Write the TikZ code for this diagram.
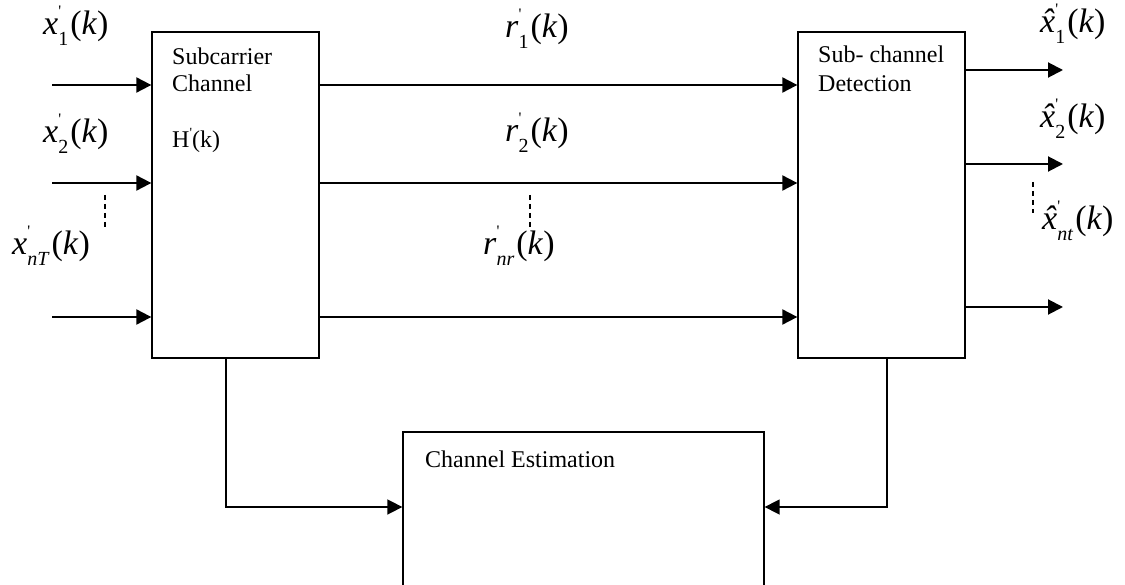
\documentclass[tikz,border=0pt]{standalone}
\usepackage{fontspec}
\setmainfont{Liberation Serif}
\usetikzlibrary{arrows.meta}
% signal name: symbol, prime over an index, then (k)
\newcommand\sig[2]{#1\rlap{\raisebox{0.55em}{\fontsize{16}{16}\selectfont\textquotesingle}}\raisebox{-0.3em}{\fontsize{20}{20}\selectfont #2}\kern2pt(\textit{k})}
% italic x with a circumflex
\newcommand\xhat{\textit{x}\llap{\textit{\char"02C6}\kern0.02em}}
\begin{document}
\begin{tikzpicture}[x=1pt,y=-1pt,
  blk/.style={draw, line width=1.3pt, inner sep=0pt},
  sigarrow/.style={line width=2pt, -{Triangle[length=15pt,width=15pt]}},
  feed/.style={line width=1.6pt, -{Triangle[length=15pt,width=15pt]}},
  dots/.style={line width=1.3pt, dash pattern=on 5pt off 4pt},
  lab/.style={anchor=base west, inner sep=0pt, font=\fontsize{34}{34}\selectfont},
  txt/.style={anchor=base west, inner sep=0pt, font=\fontsize{24}{24}\selectfont}]
\useasboundingbox (0,0) rectangle (1125,585);
\clip (0,0) rectangle (1125,585);

% blocks
\node[blk, minimum width=167pt, minimum height=326pt] (sc)  at (235.5,195) {};
\node[blk, minimum width=167pt, minimum height=326pt] (det) at (881.5,195) {};
\node[blk, minimum width=361pt, minimum height=220pt] (est) at (583.5,542) {};

% block texts
\node[txt] (sc1) at (172,65) {Subcarrier};
\node[txt] (sc2) at (172,92) {Channel};
\node[txt] (sc3) at (172,148) {H\raisebox{0.45em}{\fontsize{14}{14}\selectfont\textquotesingle}(k)};
\node[txt] (dt1) at (818,63) {Sub- channel};
\node[txt] (dt2) at (818,92) {Detection};
\node[txt] (es1) at (425,467) {Channel Estimation};

% input ends and output ends
\coordinate (i1) at (52,85);
\coordinate (i2) at (52,183);
\coordinate (i3) at (52,317);
\coordinate (o1) at (1063,70);
\coordinate (o2) at (1063,164);
\coordinate (o3) at (1063,307);

\draw[sigarrow] (i1) -- (i1 -| sc.west);
\draw[sigarrow] (i2) -- (i2 -| sc.west);
\draw[sigarrow] (i3) -- (i3 -| sc.west);
\draw[sigarrow] (sc.east |- i1) -- (det.west |- i1);
\draw[sigarrow] (sc.east |- i2) -- (det.west |- i2);
\draw[sigarrow] (sc.east |- i3) -- (det.west |- i3);
\draw[sigarrow] (det.east |- o1) -- (o1);
\draw[sigarrow] (det.east |- o2) -- (o2);
\draw[sigarrow] (det.east |- o3) -- (o3);

% feeds into channel estimation
\coordinate (f1) at (226,507);
\coordinate (f2) at (887,507);
\draw[feed] (f1 |- sc.south) -- (f1) -- (est.west |- f1);
\draw[feed] (f2 |- det.south) -- (f2) -- (est.east |- f2);

% continuation marks
\draw[dots] (105,195) -- (105,228);
\draw[dots] (530,195) -- (530,228);
\draw[dots] (1033,182) -- (1033,213);

% signal labels
\node[lab] (lx1) at (43,35)   {\sig{\textit{x}}{1}};
\node[lab] (lx2) at (43,143)  {\sig{\textit{x}}{2}};
\node[lab] (lx3) at (12,255)  {\sig{\textit{x}}{\textit{nT}}};
\node[lab] (lr1) at (505,38)  {\sig{\textit{r}}{1}};
\node[lab] (lr2) at (505,142) {\sig{\textit{r}}{2}};
\node[lab] (lr3) at (483,255) {\sig{\textit{r}}{\textit{nr}}};
\node[lab] (ly1) at (1040,33)  {\sig{\xhat}{1}};
\node[lab] (ly2) at (1040,128) {\sig{\xhat}{2}};
\node[lab] (ly3) at (1042,230) {\sig{\xhat}{\textit{nt}}};
\end{tikzpicture}
\end{document}
